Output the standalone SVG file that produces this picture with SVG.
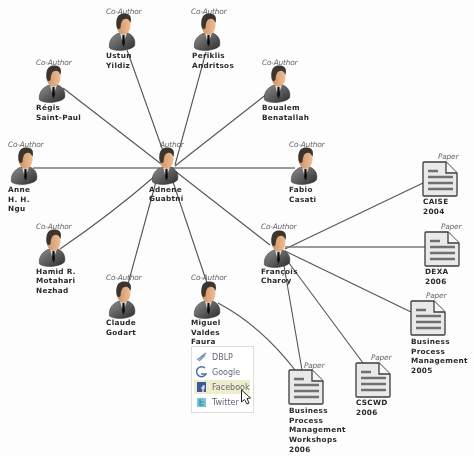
<svg xmlns="http://www.w3.org/2000/svg" width="474" height="456" viewBox="0 0 474 456">
<style>
.n{font:bold 7.300px "DejaVu Sans",sans-serif;fill:#2a2a2a;letter-spacing:.3px}
.r{font:italic 7.400px "DejaVu Sans",sans-serif;fill:#666;letter-spacing:-.2px}
.m{font:8px "DejaVu Sans",sans-serif;fill:#667}
.c{fill:none;stroke:#555;stroke-width:1.1}
.c2{fill:none;stroke:#777;stroke-width:1.6}
</style>
<defs>
<filter id="b" x="0" y="0" width="100%" height="100%"><feGaussianBlur stdDeviation="0.45"/></filter>
<linearGradient id="sk" x1="0" x2="1" y1="0" y2="0"><stop offset="0" stop-color="#c9926a"/><stop offset="1" stop-color="#f2bd92"/></linearGradient>
<linearGradient id="su" x1="0" x2="1" y1="0" y2="1"><stop offset="0" stop-color="#8f8f8f"/><stop offset="1" stop-color="#2c2c2c"/></linearGradient>
<symbol id="person" overflow="visible">
<path d="M-12.500 33C-14 25-8 19-2 18L6 18C11 20 14 25 12.500 31C8 36-8 37-12.500 33Z" fill="url(#su)" stroke="#333" stroke-width=".5"/>
<path d="M-2 18L1 29L5 18Z" fill="#ddd"/>
<path d="M0.500 20L2.500 20L3 28L1.500 32L0 28Z" fill="#111"/>
<ellipse cx="1.500" cy="10" rx="7" ry="10" fill="url(#sk)"/>
<path d="M-5.500 11C-7-1 0-2 3-1.500C8-1.500 10 2 8.500 8C7 4 5 3.500 3 4C0 4.500-1 7-1.500 13C-3 15-5 14-5.500 11Z" fill="#3b342e"/>
</symbol>
<symbol id="paper" overflow="visible">
<path d="M1 0H23L34 11V33Q34 34 33 34H1Q0 34 0 33V1Q0 0 1 0Z" fill="#e9e9e9" stroke="#3c3c3c" stroke-width="1.300"/>
<path d="M23 0V11H34" fill="#f8f8f8" stroke="#3c3c3c" stroke-width="1.300"/>
<path d="M5 9H15M5 15H30M5 21H30M5 27H30" stroke="#707070" stroke-width="2.500" fill="none"/>
</symbol>
</defs>
<g filter="url(#b)">
<rect width="474" height="456" fill="#fdfdfd"/>
<g id="connectors">
<path class="c" d="M127 50L168 165"/>
<path class="c" d="M206 52L175 165"/>
<path class="c" d="M63 88L165 167"/>
<path class="c2" d="M33 168H160"/>
<path class="c" d="M272 90L175 166"/>
<path class="c2" d="M170 168H295"/>
<path class="c" d="M60 249Q110 215 155 176"/>
<path class="c" d="M128 284L157 178"/>
<path class="c" d="M207 283L171 176"/>
<path class="c" d="M175 171L270 245"/>
<path class="c" d="M285 249L423 183"/>
<path class="c2" d="M285 247H425"/>
<path class="c" d="M285 251L411 312"/>
<path class="c" d="M283 255L363 363"/>
<path class="c" d="M283 260L302 370"/>
<path class="c" d="M218 303Q260 325 295 370"/>
</g>
<g id="ustun"><text class="r" x="106" y="14">Co-Author</text><use href="#person" x="122" y="15"/><text class="n" x="106" y="58">Ustun</text><text class="n" x="106" y="68">Yildiz</text></g>
<g id="periklis"><text class="r" x="191" y="14">Co-Author</text><use href="#person" x="207" y="15"/><text class="n" x="192" y="58">Periklis</text><text class="n" x="192" y="68">Andritsos</text></g>
<g id="regis"><text class="r" x="36" y="65">Co-Author</text><use href="#person" x="52" y="67"/><text class="n" x="36" y="110">Régis</text><text class="n" x="36" y="120">Saint-Paul</text></g>
<g id="boualem"><text class="r" x="262" y="65">Co-Author</text><use href="#person" x="277" y="67"/><text class="n" x="262" y="110">Boualem</text><text class="n" x="262" y="120">Benatallah</text></g>
<g id="anne"><text class="r" x="8" y="147">Co-Author</text><use href="#person" x="24" y="149"/><text class="n" x="8" y="192">Anne</text><text class="n" x="8" y="202">H. H.</text><text class="n" x="8" y="211">Ngu</text></g>
<g id="adnene"><text class="r" x="160" y="147">Author</text><use href="#person" x="165" y="149"/><text class="n" x="149" y="192">Adnene</text><text class="n" x="149" y="201">Guabtni</text></g>
<g id="fabio"><text class="r" x="289" y="147">Co-Author</text><use href="#person" x="304" y="149"/><text class="n" x="289" y="192">Fabio</text><text class="n" x="289" y="202">Casati</text></g>
<g id="francois"><text class="r" x="261" y="229">Co-Author</text><use href="#person" x="277" y="232"/><text class="n" x="261" y="274">François</text><text class="n" x="261" y="283">Charoy</text></g>
<g id="hamid"><text class="r" x="36" y="229">Co-Author</text><use href="#person" x="52" y="231"/><text class="n" x="36" y="274">Hamid R.</text><text class="n" x="36" y="283">Motahari</text><text class="n" x="36" y="293">Nezhad</text></g>
<g id="claude"><text class="r" x="106" y="280">Co-Author</text><use href="#person" x="122" y="283"/><text class="n" x="106" y="325">Claude</text><text class="n" x="106" y="335">Godart</text></g>
<g id="miguel"><text class="r" x="191" y="280">Co-Author</text><use href="#person" x="207" y="283"/><text class="n" x="191" y="325">Miguel</text><text class="n" x="191" y="335">Valdes</text><text class="n" x="191" y="344">Faura</text></g>
<g id="caise"><text class="r" x="438" y="159">Paper</text><use href="#paper" x="423" y="162"/><text class="n" x="423" y="204">CAISE</text><text class="n" x="423" y="214">2004</text></g>
<g id="dexa"><text class="r" x="441" y="229">Paper</text><use href="#paper" x="425" y="232"/><text class="n" x="425" y="274">DEXA</text><text class="n" x="425" y="284">2006</text></g>
<g id="bpm2005"><text class="r" x="426" y="298">Paper</text><use href="#paper" x="411" y="301"/><text class="n" x="411" y="344">Business</text><text class="n" x="411" y="354">Process</text><text class="n" x="411" y="363">Management</text><text class="n" x="411" y="373">2005</text></g>
<g id="cscwd"><text class="r" x="371" y="360">Paper</text><use href="#paper" x="356" y="363"/><text class="n" x="356" y="405">CSCWD</text><text class="n" x="356" y="415">2006</text></g>
<g id="bpmw2006"><text class="r" x="304" y="368">Paper</text><use href="#paper" x="289" y="370"/><text class="n" x="289" y="413">Business</text><text class="n" x="289" y="423">Process</text><text class="n" x="289" y="432">Management</text><text class="n" x="289" y="442">Workshops</text><text class="n" x="289" y="452">2006</text></g>
<g id="menu">
<rect x="191.500" y="346.500" width="62" height="66" fill="#fff" stroke="#ddd"/>
<rect x="194" y="380" width="56" height="14" fill="#eeeecc"/>
<path d="M197 360L206 353M199 361L205 355" stroke="#6d95b8" stroke-width="1.500" fill="none"/>
<text class="m" x="212" y="360">DBLP</text>
<path d="M205 368A5 5 0 1 0 206 374H201" stroke="#4a6fa8" stroke-width="1.500" fill="none"/>
<text class="m" x="212" y="375">Google</text>
<rect x="197" y="382" width="9" height="10" fill="#3b5998"/>
<path d="M203 392V386H205M201 388H205" stroke="#fff" stroke-width="1.200" fill="none"/>
<text class="m" x="212" y="390">Facebook</text>
<rect x="197" y="398" width="9" height="9" fill="#7cc5d6"/>
<path d="M200 399V405H204M200 402H204" stroke="#2f8a9c" stroke-width="1.200" fill="none"/>
<text class="m" x="212" y="405">Twitter</text>
<path d="M241.500 390V402L244.500 399.500L247 404L249 403L247 398.500L250.500 398Z" fill="#fff" stroke="#222" stroke-width="1"/>
</g>
</g>
</svg>
